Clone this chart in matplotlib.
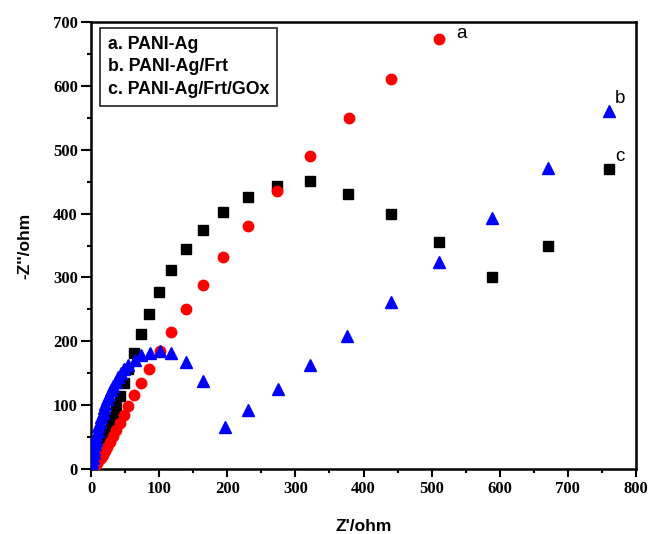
import matplotlib
matplotlib.use("Agg")
import matplotlib.pyplot as plt
from matplotlib.lines import Line2D
from matplotlib.ticker import MultipleLocator

# a. PANI-Ag (red circles)
a_x = [511, 441, 378, 321, 273, 230, 194, 164, 139, 118, 101, 85, 73, 63, 55, 48, 42, 37,
       32, 28, 24, 20, 17, 14, 11, 9, 7, 5, 3, 2]
a_y = [674, 611, 550, 491, 435, 381, 332, 288, 250, 214, 185, 156, 135, 116, 98, 85, 72, 61,
       51, 42, 35, 28, 22, 17, 12, 9, 6, 4, 2, 1]

# b. PANI-Ag/Frt (blue triangles)
b_x = [761, 671, 588, 511, 441, 376, 322, 274, 231, 196, 165, 139.5, 118, 102, 87, 73, 64, 55,
       49, 44, 40, 36, 32, 29, 26, 23, 21, 19, 17, 15, 13, 11, 10, 8, 7, 6, 5, 4, 3, 2, 1]
b_y = [560, 472, 393, 324, 262, 208, 163, 125, 92, 66, 138, 168, 181, 185, 182, 178, 171, 163,
       156, 150, 144, 137, 130, 123, 116, 109, 102, 95, 88, 81, 74, 67, 60, 53, 46, 39, 32, 25,
       18, 11, 5]

# c. PANI-Ag/Frt/GOx (black squares)
c_x = [761, 671, 588, 511, 441, 377, 322, 273, 230, 194, 164, 139, 118, 100, 85, 73, 63, 55,
       48, 42, 37, 33, 29, 26, 23, 20, 17, 15, 12, 10, 8, 6, 4, 3]
c_y = [470, 349, 300, 355, 400, 430, 451, 444, 426, 403, 375, 344, 312, 277, 243, 212, 182, 157,
       134, 115, 97, 82, 71, 61, 52, 44, 36, 30, 23, 18, 13, 9, 5, 3]

legend_labels = ["a. PANI-Ag", "b. PANI-Ag/Frt", "c. PANI-Ag/Frt/GOx"]
tag_labels = ["a", "b", "c"]
tag_pos = [(544, 682), (777, 580), (777, 490)]

fig = plt.figure(figsize=(6.5, 5.34), dpi=100)
ax = fig.add_axes([0.14, 0.1217, 0.8385, 0.837])

ax.plot(c_x, c_y, "s", color="black", ms=7, mec="black", zorder=3)
ax.plot(a_x, a_y, "o", color="red", ms=7.5, mec="red", zorder=4)
ax.plot(b_x, b_y, "^", color="blue", ms=9, mec="blue", zorder=5)

ax.set_xlim(0, 800)
ax.set_ylim(0, 700)
ax.xaxis.set_major_locator(MultipleLocator(100))
ax.xaxis.set_minor_locator(MultipleLocator(50))
ax.yaxis.set_major_locator(MultipleLocator(100))
ax.yaxis.set_minor_locator(MultipleLocator(50))
ax.tick_params(axis="x", which="major", direction="out", length=5.5, width=1.5, pad=3)
ax.tick_params(axis="y", which="major", direction="out", length=7.5, width=1.5, pad=2)
ax.tick_params(which="minor", direction="out", length=3, width=1.5)
for sp in ax.spines.values():
    sp.set_linewidth(1.8)

for lab in ax.get_xticklabels() + ax.get_yticklabels():
    lab.set_fontfamily("Liberation Serif")
    lab.set_fontweight("bold")
    lab.set_fontsize(12)

ax.set_xlabel("Z'/ohm", fontfamily="Liberation Sans", fontweight="bold", fontsize=12.5, labelpad=16)
ax.set_ylabel("-Z''/ohm", fontfamily="Liberation Sans", fontweight="bold", fontsize=12.5, labelpad=15)

for t, (x, y) in zip(tag_labels, tag_pos):
    ax.text(x, y, t, fontfamily="Liberation Sans", fontsize=13.5, ha="center", va="center")

handles = [Line2D([], [], linestyle="none") for _ in legend_labels]
leg = ax.legend(handles, legend_labels, loc="upper left", bbox_to_anchor=(0.0165, 0.987),
                borderaxespad=0, handlelength=0, handletextpad=0, fancybox=False,
                framealpha=1, edgecolor="#333333", labelspacing=0.3, borderpad=0.45,
                prop={"family": "Liberation Sans", "weight": "bold", "size": 12.8})
leg.get_frame().set_linewidth(1.3)

fig.savefig("out.png", dpi=100)
